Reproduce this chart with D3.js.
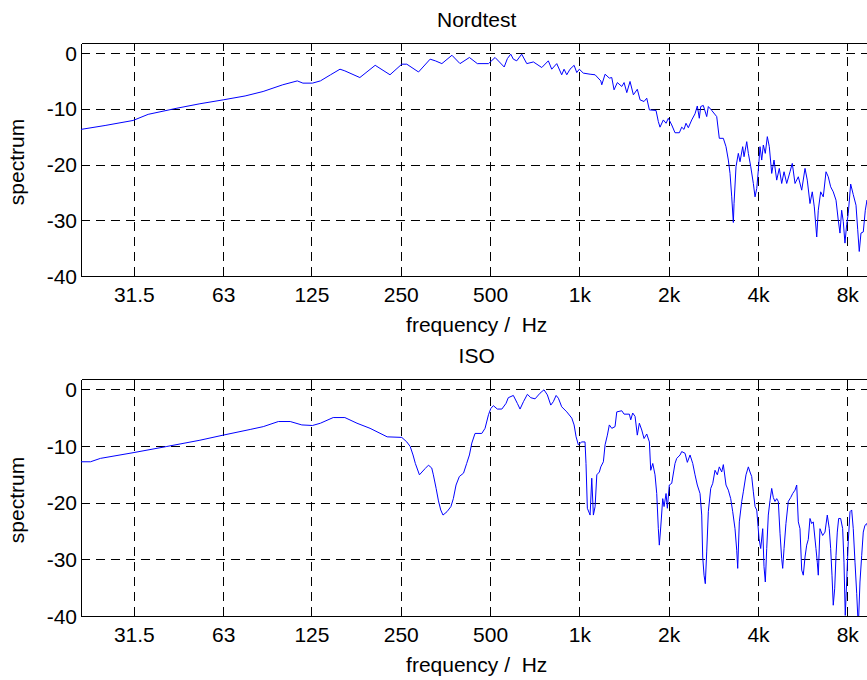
<!DOCTYPE html>
<html>
<head>
<meta charset="utf-8">
<script src="https://cdn.jsdelivr.net/npm/d3@7"></script>
<style>
    body { margin: 0; background: #fff; }
    svg { display: block; font-family: "Liberation Sans", Arial, Helvetica, sans-serif; }
    .axis path, .axis line { stroke: #000; shape-rendering: crispEdges; }
    .axis text { fill: #000; font-size: 21px; }
    .grid line { stroke: #000; stroke-dasharray: 9,6; shape-rendering: crispEdges; }
    .grid path { display: none; }
</style>
</head>
<body>
<div id="chart"></div>
<script>
// values (frequency in Hz, level in dB)
const nordFreq = [20.9, 25.2, 31.3, 35.2, 44.0, 52.6, 63.0, 74.7, 85.9, 100, 112, 117, 126, 134, 145, 156, 162, 182, 205, 230,
    252, 262, 287, 314, 327, 344, 372, 396, 426, 453, 494, 520, 558, 572, 587, 599, 615, 639, 665, 700,
    747, 786, 807, 839, 872, 888, 907, 930, 960, 980, 1000, 1031, 1087, 1130, 1181, 1190, 1221, 1262, 1286, 1309,
    1343, 1390, 1415, 1445, 1482, 1521, 1568, 1602, 1652, 1687, 1722, 1813, 1846, 1870, 1919, 1960, 1995, 2048, 2101, 2173,
    2213, 2253, 2288, 2330, 2392, 2454, 2498, 2537, 2565, 2617, 2687, 2721, 2794, 2904, 2963, 3057, 3121, 3178, 3220, 3263,
    3304, 3322, 3373, 3434, 3480, 3553, 3590, 3666, 3712, 3782, 3859, 3910, 3962, 4011, 4064, 4118, 4170, 4234, 4301, 4368,
    4450, 4531, 4626, 4720, 4809, 4897, 5000, 5130, 5220, 5333, 5471, 5617, 5763, 5865, 5990, 6097, 6194, 6311, 6388, 6508,
    6640, 6783, 6902, 7032, 7175, 7331, 7460, 7559, 7658, 7754, 7857, 7961, 8061, 8213, 8380, 8561, 8675, 8780, 8897, 9058,
    9201, 9323, 9600, 10000];
const nordDb = [-13.7, -13.0, -12.1, -11.0, -9.9, -9.1, -8.4, -7.7, -6.9, -5.7, -5.0, -5.4, -5.4, -5.0, -3.9, -2.9, -3.2, -4.4, -2.2, -3.9,
    -2.0, -2.0, -3.4, -1.1, -1.4, -1.9, -0.4, -1.9, -0.8, -1.9, -1.9, -0.8, -2.5, -1.0, -0.2, -1.1, -1.4, -0.2, -1.9, -1.6,
    -2.6, -1.4, -2.9, -1.9, -3.9, -2.9, -3.9, -2.9, -2.2, -3.5, -2.9, -3.6, -3.8, -3.9, -5.0, -5.7, -3.8, -4.5, -4.4, -6.6,
    -5.3, -6.0, -5.3, -7.1, -5.1, -7.5, -6.5, -8.4, -8.7, -8.1, -10.2, -10.3, -12.3, -13.3, -12.0, -12.6, -11.7, -12.9, -14.3, -14.3,
    -13.3, -13.7, -12.6, -13.4, -12.0, -10.9, -9.5, -11.7, -9.6, -9.4, -11.4, -9.6, -10.3, -11.4, -15.3, -15.3, -16.8, -19.2, -21.6, -25.8,
    -30.4, -27.0, -20.4, -18.0, -19.5, -16.8, -18.6, -15.9, -18.0, -20.4, -23.4, -25.8, -24.3, -21.0, -16.8, -19.2, -16.5, -18.0, -15.0, -16.8,
    -21.6, -19.2, -22.8, -20.7, -23.4, -21.3, -23.4, -21.3, -19.8, -23.4, -22.2, -24.6, -20.7, -22.8, -27.0, -24.9, -27.6, -33.0, -28.2, -24.9,
    -25.8, -21.3, -22.2, -24.0, -24.9, -26.4, -30.0, -32.3, -28.2, -30.2, -34.1, -30.8, -28.8, -23.5, -25.4, -27.3, -31.7, -35.6, -32.3, -32.1,
    -28.2, -26.4, -31.0, -29.0];

const isoFreq = [20.9, 22.5, 24.3, 31.3, 40.7, 52.6, 63.0, 77.7, 86.0, 96.7, 106, 116, 126, 134, 148, 162, 178, 197, 225, 252,
    262, 269, 275, 280, 289, 302, 310, 318, 322, 329, 335, 341, 347, 358, 369, 376, 384, 394, 407, 417,
    426, 434, 445, 469, 481, 494, 503, 513, 529, 548, 566, 576, 599, 618, 631, 648, 668, 686, 709, 737,
    760, 780, 801, 817, 835, 850, 872, 907, 943, 960, 975, 992, 1019, 1045, 1053, 1064, 1087, 1101, 1115, 1130,
    1145, 1168, 1181, 1205, 1221, 1243, 1262, 1286, 1319, 1337, 1390, 1415, 1474, 1490, 1513, 1541, 1568, 1593, 1623, 1652,
    1687, 1722, 1740, 1768, 1799, 1823, 1846, 1860, 1881, 1910, 1930, 1960, 1980, 2010, 2048, 2101, 2129, 2185, 2213, 2271,
    2312, 2361, 2411, 2454, 2498, 2551, 2585, 2605, 2632, 2658, 2687, 2721, 2772, 2816, 2866, 2918, 2963, 3019, 3057, 3121,
    3178, 3237, 3288, 3347, 3392, 3418, 3461, 3526, 3570, 3645, 3712, 3760, 3810, 3859, 3910, 3962, 4033, 4086, 4150, 4192,
    4235, 4281, 4334, 4392, 4450, 4506, 4565, 4626, 4684, 4746, 4809, 4846, 4897, 4970, 5061, 5157, 5237, 5333, 5403, 5471,
    5542, 5617, 5686, 5763, 5838, 5911, 5990, 6069, 6145, 6274, 6338, 6388, 6472, 6609, 6729, 6850, 6957, 7032, 7105, 7175,
    7255, 7331, 7403, 7483, 7600, 7719, 7798, 7876, 7961, 8061, 8171, 8278, 8380, 8494, 8607, 8714, 8829, 8948, 9058, 9177,
    9323, 9600, 10000];
const isoDb = [-12.8, -12.8, -12.2, -11.2, -10.1, -9.0, -8.1, -7.1, -6.6, -5.7, -5.7, -6.3, -6.4, -6.0, -5.0, -5.0, -6.0, -6.9, -8.4, -8.5,
    -9.3, -10.1, -11.6, -13.1, -15.1, -14.0, -13.4, -13.9, -15.1, -17.5, -19.7, -21.3, -22.2, -21.6, -20.7, -19.3, -16.9, -15.4, -14.8, -13.1,
    -11.6, -9.5, -7.8, -7.8, -6.9, -4.5, -3.4, -2.9, -3.5, -3.5, -2.5, -1.5, -1.1, -2.5, -3.5, -2.2, -0.9, -1.5, -1.7, -0.7,
    -0.1, -1.0, -2.8, -2.2, -1.1, -1.6, -3.1, -4.0, -5.1, -6.3, -8.4, -9.8, -9.3, -9.3, -13.1, -21.0, -22.2, -15.7, -22.2, -20.7,
    -15.1, -14.6, -13.7, -12.8, -9.8, -8.1, -6.3, -6.9, -6.6, -4.0, -3.8, -4.4, -4.4, -5.4, -4.2, -4.8, -8.1, -6.0, -7.2, -8.7,
    -7.9, -9.3, -14.3, -13.1, -15.1, -18.4, -24.6, -27.5, -24.3, -19.3, -20.7, -18.4, -21.0, -16.9, -16.6, -13.1, -12.2, -11.6, -11.0, -11.3,
    -12.9, -11.6, -13.1, -15.1, -16.9, -18.4, -22.2, -29.6, -32.8, -34.3, -28.7, -21.6, -17.5, -16.6, -14.3, -15.1, -13.7, -14.6, -13.3, -16.9,
    -17.8, -19.3, -21.6, -24.6, -28.4, -31.6, -23.4, -19.8, -18.1, -15.1, -13.7, -14.6, -15.4, -18.1, -20.7, -21.3, -26.3, -28.1, -24.6, -31.3,
    -34.0, -28.1, -22.2, -19.6, -17.5, -19.1, -19.8, -19.3, -19.8, -25.4, -29.9, -31.6, -28.1, -23.7, -19.8, -19.1, -18.4, -17.8, -16.9, -23.4,
    -24.6, -31.9, -32.8, -29.6, -27.5, -26.5, -22.8, -23.7, -23.4, -28.1, -30.5, -32.8, -24.6, -25.8, -25.2, -22.2, -24.6, -28.1, -32.8, -38.1,
    -35.2, -29.3, -25.2, -22.8, -22.8, -24.6, -30.5, -39.9, -34.0, -26.9, -21.6, -21.3, -24.6, -30.5, -36.0, -42.0, -34.0, -29.3, -25.2, -24.0,
    -23.7, -28.0, -33.0];

const freqTicks = [31.5, 63, 125, 250, 500, 1000, 2000, 4000, 8000];
const freqTickLabels = ["31.5", "63", "125", "250", "500", "1k", "2k", "4k", "8k"];
const dbTicks = [0, -10, -20, -30, -40];
const panelTitles = ["Nordtest", "ISO"];

class SpectrumVis {
    constructor(_svg, _id, _title, _freq, _db, _top, _bottom) {
        this.svg = _svg;
        this.id = _id;
        this.title = _title;
        this.freq = _freq;
        this.db = _db;
        this.top = _top;
        this.bottom = _bottom;

        this.initVis();
    }

    initVis() {
        let vis = this;

        vis.margin = { top: vis.top, left: 81 };
        vis.width = 888.6 - vis.margin.left;   // right edge of the axes lies past the window
        vis.height = vis.bottom - vis.top;

        vis.g = vis.svg.append("g")
            .attr("transform", "translate(" + vis.margin.left + "," + vis.margin.top + ")");

        // Scales and Axes
        vis.x = d3.scaleLog()
            .domain([20.9, 11025])
            .range([0, vis.width]);

        vis.y = d3.scaleLinear()
            .domain([-40, 1.8])
            .range([vis.height, 0]);

        vis.xAxis = d3.axisBottom(vis.x)
            .tickValues(freqTicks)
            .tickFormat((d, i) => freqTickLabels[i])
            .tickSizeInner(-8)
            .tickSizeOuter(0)
            .tickPadding(11);

        // plain hyphen for negative labels, like the original
        vis.yAxis = d3.axisLeft(vis.y)
            .tickValues(dbTicks)
            .tickFormat(d => String(d))
            .tickSizeInner(-8)
            .tickSizeOuter(0)
            .tickPadding(4);

        vis.g.append("clipPath")
            .attr("id", "clip-" + vis.id)
            .append("rect")
            .attr("width", vis.width)
            .attr("height", vis.height);

        vis.wrangleData();
    }

    wrangleData() {
        let vis = this;

        vis.displayData = vis.freq.map((f, i) => ({ freq: f, db: vis.db[i] }));

        vis.updateVis();
    }

    updateVis() {
        let vis = this;

        // dashed grid
        vis.g.append("g")
            .attr("class", "grid")
            .attr("transform", "translate(0," + vis.height + ")")
            .call(d3.axisBottom(vis.x).tickValues(freqTicks).tickSize(-vis.height).tickFormat(""));

        vis.g.append("g")
            .attr("class", "grid")
            .call(d3.axisLeft(vis.y).tickValues(dbTicks.slice(0, 4)).tickSize(-vis.width).tickFormat(""));

        // axes
        vis.g.append("g")
            .attr("class", "x-axis axis")
            .attr("transform", "translate(0," + vis.height + ")")
            .call(vis.xAxis);

        vis.g.append("g")
            .attr("class", "x-axis-top axis")
            .call(d3.axisTop(vis.x).tickValues(freqTicks).tickSizeInner(-8).tickSizeOuter(0).tickFormat(""));

        vis.g.append("g")
            .attr("class", "y-axis axis")
            .call(vis.yAxis);

        vis.g.selectAll(".y-axis text").attr("dy", "0.34em");

        // spectrum line
        const line = d3.line()
            .x(d => vis.x(d.freq))
            .y(d => vis.y(d.db))
            .curve(d3.curveLinear);

        vis.g.append("path")
            .datum(vis.displayData)
            .attr("clip-path", "url(#clip-" + vis.id + ")")
            .attr("fill", "none")
            .attr("stroke", "#0000ff")
            .attr("stroke-width", 1)
            .attr("stroke-linejoin", "round")
            .attr("d", line);

        // labels
        vis.g.append("text")
            .attr("x", 476.7 - vis.margin.left)
            .attr("y", -16)
            .attr("text-anchor", "middle")
            .attr("font-size", 21)
            .text(vis.title);

        vis.g.append("text")
            .attr("x", 476.7 - vis.margin.left)
            .attr("y", vis.height + 56)
            .attr("text-anchor", "middle")
            .attr("font-size", 21)
            .attr("xml:space", "preserve")
            .style("white-space", "pre")
            .text("frequency /  Hz");

        vis.g.append("text")
            .attr("transform", "translate(" + (24 - vis.margin.left) + "," + (vis.height / 2 + 2.5) + ") rotate(-90)")
            .attr("text-anchor", "middle")
            .attr("font-size", 21)
            .text("spectrum");
    }
}

const svg = d3.select("#chart").append("svg")
    .attr("width", 867)
    .attr("height", 680);

const nordVis = new SpectrumVis(svg, "nord", panelTitles[0], nordFreq, nordDb, 43, 276);
const isoVis = new SpectrumVis(svg, "iso", panelTitles[1], isoFreq, isoDb, 379, 616);
</script>
</body>
</html>
